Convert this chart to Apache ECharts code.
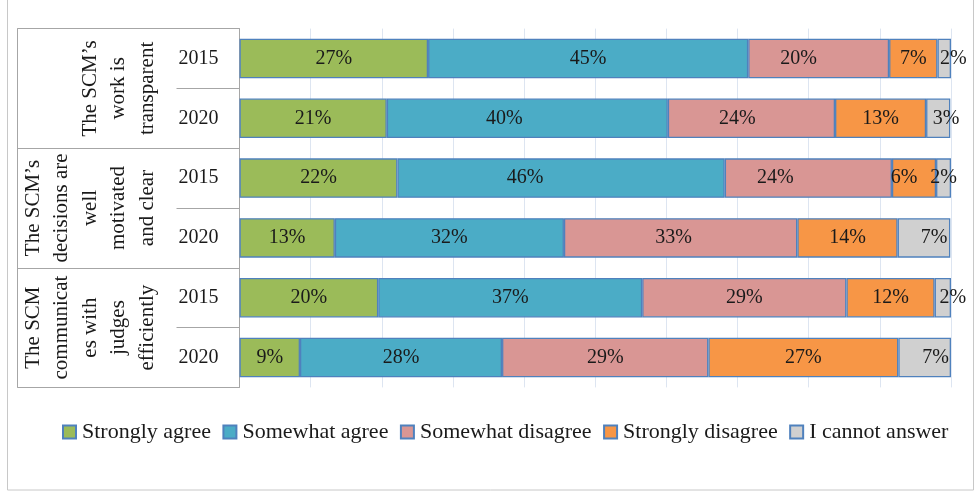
<!DOCTYPE html>
<html>
<head>
<meta charset="utf-8">
<script src="https://cdn.jsdelivr.net/npm/echarts@6/dist/echarts.min.js"></script>
<style>
html,body{margin:0;padding:0;background:#fff;}
#c{width:980px;height:492px;}
</style>
</head>
<body>
<div id="c"></div>
<script>
// ---- data ----
const groups = ["The SCM\u2019s\nwork is\ntransparent", "The SCM\u2019s\ndecisions are\nwell\nmotivated\nand clear", "The SCM\ncommunicat\nes with\njudges\nefficiently"];
const years = ["2015", "2020", "2015", "2020", "2015", "2020"];
const seriesNames = ["Strongly agree", "Somewhat agree", "Somewhat disagree", "Strongly disagree", "I cannot answer"];
const stronglyAgree    = [26.5, 20.7, 22.2, 13.4, 19.5, 8.5];
const somewhatAgree    = [45.0, 39.5, 46.0, 32.2, 37.1, 28.4];
const somewhatDisagree = [19.8, 23.5, 23.5, 32.8, 28.7, 29.0];
const stronglyDisagree = [6.8, 12.8, 6.2, 14.1, 12.4, 26.7];
const cannotAnswer     = [1.9, 3.4, 2.1, 7.4, 2.3, 7.4];
const xTicks = [0, 10, 20, 30, 40, 50, 60, 70, 80, 90, 100];

// ---- styling ----
const values = [stronglyAgree, somewhatAgree, somewhatDisagree, stronglyDisagree, cannotAnswer];
const colors = ["#9bbb59", "#4bacc6", "#d99694", "#f79646", "#d0d0d0"];
const FONT = "Liberation Serif";
// label nudges (series index -> row -> dx), matching the reference's hand-placed labels
const nudge = {
  1: {1: -23, 2: -36},
  2: {0: -20, 1: -14, 2: -33, 3: -7},
  3: {2: -10},
  4: {0: 9, 1: 8, 3: 10, 4: 10, 5: 11}
};
const rowKeys = years.map((y, i) => String(i));

const series = values.map((arr, si) => ({
  name: seriesNames[si],
  type: 'bar',
  stack: 'total',
  yAxisIndex: 0,
  barCategoryGap: '34%',
  itemStyle: {color: colors[si], borderColor: '#4f81bd', borderWidth: 1.3},
  label: {
    show: true, position: 'inside', color: '#1a1a1a',
    fontFamily: FONT, fontSize: 20,
    formatter: p => Math.round(p.value) + '%'
  },
  data: arr.map((v, ri) => {
    const dx = (nudge[si] && nudge[si][ri]) || 0;
    return dx ? {value: v, label: {offset: [dx, 0]}} : v;
  })
}));

const chart = echarts.init(document.getElementById('c'), null, {renderer: 'canvas'});
chart.setOption({
  animation: false,
  backgroundColor: '#fff',
  grid: {left: 239.5, right: 29, top: 28.6, bottom: 104.6, containLabel: false, outerBoundsMode: 'none'},
  legend: {
    left: 62, top: 421, padding: 0,
    itemWidth: 13, itemHeight: 13, itemGap: 11.5,
    icon: 'rect',
    textStyle: {fontFamily: FONT, fontSize: 22, color: '#1a1a1a', padding: [0, 0, 0, 1]},
    data: seriesNames
  },
  xAxis: {
    type: 'value', min: xTicks[0], max: xTicks[xTicks.length - 1], interval: xTicks[1] - xTicks[0],
    axisLabel: {show: false}, axisTick: {show: false}, axisLine: {show: false},
    splitLine: {show: true, lineStyle: {color: '#dde5f1', width: 1}}
  },
  yAxis: [
    {
      type: 'category', inverse: true, data: rowKeys,
      axisLine: {show: true, lineStyle: {color: '#a6a6a6', width: 1}},
      axisTick: {show: true, length: 63, interval: 0, lineStyle: {color: '#a6a6a6', width: 1}},
      axisLabel: {margin: 21, interval: 0, fontFamily: FONT, fontSize: 20, color: '#1a1a1a', formatter: (v, i) => years[i]}
    },
    {
      type: 'category', inverse: true, data: groups, offset: 222, position: 'left',
      axisLine: {show: true, lineStyle: {color: '#a6a6a6', width: 1}},
      axisTick: {show: true, inside: true, interval: 0, length: 222, lineStyle: {color: '#a6a6a6', width: 1}},
      axisLabel: {inside: true, interval: 0, rotate: 90, margin: 144, fontFamily: FONT, fontSize: 21, lineHeight: 28.5,
                  color: '#1a1a1a', align: 'center', verticalAlign: 'bottom'}
    }
  ],
  graphic: [{
    type: 'rect', silent: true,
    shape: {x: 7.5, y: -2, width: 966, height: 492},
    style: {fill: 'none', stroke: '#c8c8c8', lineWidth: 1}
  }],
  series: series
});
</script>
</body>
</html>
